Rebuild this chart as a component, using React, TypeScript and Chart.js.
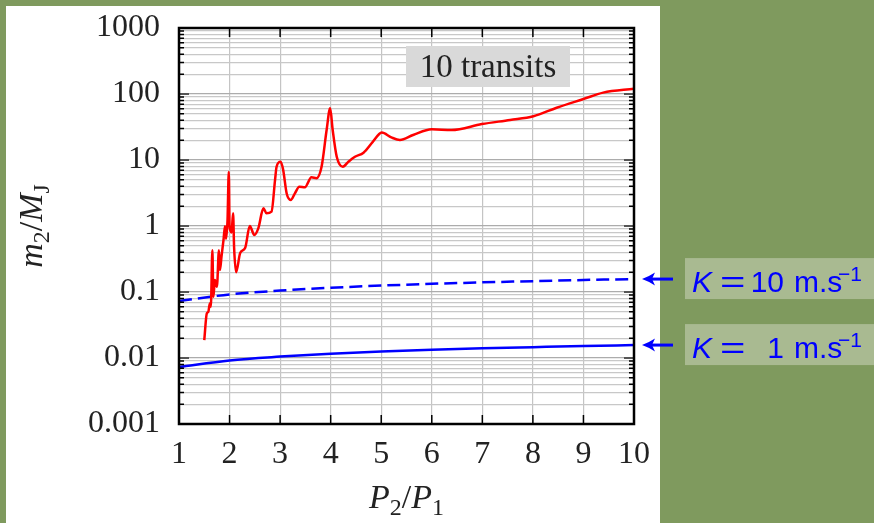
import React, { useEffect, useRef } from 'react';
import { Chart, registerables } from 'chart.js';
Chart.register(...registerables);

// ---- data ----
const X_TICKS = [1, 2, 3, 4, 5, 6, 7, 8, 9, 10];
const Y_DECADES = [0.001, 0.01, 0.1, 1, 10, 100, 1000];
const Y_TICK_LABELS = ['0.001', '0.01', '0.1', '1', '10', '100', '1000'];

const RED_X = [1.50, 1.55, 1.58, 1.61, 1.63, 1.66, 1.68, 1.71, 1.75, 1.79, 1.81, 1.84, 1.88, 1.91, 1.93, 1.96, 1.985, 2.00, 2.04, 2.07, 2.09, 2.13, 2.21, 2.31, 2.40, 2.49, 2.57, 2.67, 2.73, 2.83, 2.90, 2.93, 3.01, 3.06, 3.13, 3.21, 3.29, 3.38, 3.49, 3.62, 3.72, 3.82, 3.92, 3.99, 4.04, 4.12, 4.24, 4.35, 4.48, 4.65, 4.81, 4.96, 5.01, 5.2, 5.37, 5.63, 6.0, 6.39, 6.99, 7.55, 8.01, 8.47, 9.0, 9.39, 10.0];
const RED_Y = [0.0187, 0.0475, 0.05, 0.067, 0.06, 0.43, 0.085, 0.152, 0.12, 0.43, 0.215, 0.34, 0.61, 0.99, 0.64, 1.23, 6.6, 1.0, 0.8, 1.56, 0.47, 0.2, 0.39, 0.47, 1.0, 0.73, 0.93, 1.85, 1.56, 1.65, 5.0, 7.9, 9.4, 7.1, 3.1, 2.48, 3.1, 3.94, 3.85, 5.47, 5.3, 7.9, 28.5, 60.7, 28.5, 11.2, 7.9, 9.4, 11.2, 12.9, 17.9, 24.8, 26, 22, 20.1, 23.9, 29.2, 28.5, 35, 40.4, 46, 62, 84, 105, 120];

const K_X = [1, 2, 3, 4, 5, 6, 7, 8, 9, 10];
const K1_Y = [0.0073, 0.0092, 0.0105, 0.0116, 0.0125, 0.0133, 0.0140, 0.0146, 0.0152, 0.0157];
const K10_Y = [0.073, 0.092, 0.105, 0.116, 0.125, 0.133, 0.140, 0.146, 0.152, 0.157];

const BOX_LABEL = '10 transits';
const K_LABEL_VALUES = ['10', '1'];
const K_UNIT = 'm.s';
const K_EXP = '\u22121';

const SERIF = '"Liberation Serif", "DejaVu Serif", serif';
const SANS = '"Liberation Sans", "DejaVu Sans", sans-serif';
const GREEN = '#7f9a5e';
const LABEL_BG = '#a9ba91';
const TEXT = '#222222';

type Seg = { t: string; it?: boolean; sub?: boolean };

function drawRich(ctx: CanvasRenderingContext2D, segs: Seg[], cx: number, baseline: number, size: number) {
  const fontOf = (s: Seg) => `${s.it ? 'italic ' : ''}${s.sub ? Math.round(size * 0.7) : size}px ${SERIF}`;
  let total = 0;
  const widths = segs.map((s) => {
    ctx.font = fontOf(s);
    const w = ctx.measureText(s.t).width;
    total += w;
    return w;
  });
  let x = cx - total / 2;
  ctx.textAlign = 'left';
  ctx.textBaseline = 'alphabetic';
  segs.forEach((s, i) => {
    ctx.font = fontOf(s);
    ctx.fillText(s.t, x, baseline + (s.sub ? size * 0.22 : 0));
    x += widths[i];
  });
}

const decorPlugin = {
  id: 'decor',
  beforeDraw(chart: any) {
    const ctx = chart.ctx as CanvasRenderingContext2D;
    ctx.save();
    ctx.fillStyle = GREEN;
    ctx.fillRect(0, 0, chart.width, chart.height);
    ctx.fillStyle = '#ffffff';
    ctx.fillRect(6, 6, 654, chart.height - 6);
    ctx.restore();
  },
  afterDraw(chart: any) {
    const ctx = chart.ctx as CanvasRenderingContext2D;
    const { left, right, top, bottom } = chart.chartArea;
    const xs = chart.scales.x;
    const ys = chart.scales.y;
    ctx.save();
    // inner ticks
    ctx.strokeStyle = '#000';
    ctx.lineWidth = 1.5;
    X_TICKS.forEach((v) => {
      const px = xs.getPixelForValue(v);
      ctx.beginPath();
      ctx.moveTo(px, top); ctx.lineTo(px, top + 9);
      ctx.moveTo(px, bottom); ctx.lineTo(px, bottom - 9);
      ctx.stroke();
    });
    Y_DECADES.forEach((d, i) => {
      for (let m = 1; m <= 9; m++) {
        const v = d * m;
        if (m > 1 && i === Y_DECADES.length - 1) break;
        const py = ys.getPixelForValue(v);
        const len = m === 1 ? 10 : 5;
        ctx.strokeStyle = m === 1 ? '#555' : '#000';
        ctx.lineWidth = m === 1 ? 2 : 1.5;
        ctx.beginPath();
        ctx.moveTo(left, py); ctx.lineTo(left + len, py);
        ctx.moveTo(right, py); ctx.lineTo(right - len, py);
        ctx.stroke();
      }
    });
    // frame
    ctx.strokeStyle = '#000';
    ctx.lineWidth = 2.5;
    ctx.strokeRect(left, top, right - left, bottom - top);

    // "10 transits" box
    ctx.fillStyle = '#d9d9d9';
    ctx.fillRect(406, 46, 164, 41);
    ctx.fillStyle = TEXT;
    ctx.font = `33px ${SERIF}`;
    ctx.textAlign = 'center';
    ctx.textBaseline = 'alphabetic';
    ctx.fillText(BOX_LABEL, 488, 77);

    // axis titles
    ctx.fillStyle = TEXT;
    drawRich(ctx, [{ t: 'P', it: true }, { t: '2', sub: true }, { t: '/' }, { t: 'P', it: true }, { t: '1', sub: true }], (left + right) / 2, 508, 34);
    ctx.save();
    ctx.translate(42, (top + bottom) / 2);
    ctx.rotate(-Math.PI / 2);
    drawRich(ctx, [{ t: 'm', it: true }, { t: '2', sub: true }, { t: '/' }, { t: 'M', it: true }, { t: 'J', sub: true }], 0, 0, 34);
    ctx.restore();

    // K annotations
    const ends = [K10_Y[K10_Y.length - 1], K1_Y[K1_Y.length - 1]];
    ends.forEach((val, i) => {
      const py = ys.getPixelForValue(val);
      const boxTop = py - 21;
      ctx.fillStyle = LABEL_BG;
      ctx.fillRect(685, boxTop, chart.width - 685, 41);
      // arrow
      ctx.strokeStyle = '#0000ff';
      ctx.fillStyle = '#0000ff';
      ctx.lineWidth = 3;
      ctx.beginPath();
      ctx.moveTo(673, py); ctx.lineTo(650, py);
      ctx.stroke();
      ctx.beginPath();
      ctx.moveTo(642, py);
      ctx.quadraticCurveTo(648, py - 2, 655, py - 6.5);
      ctx.lineTo(652, py);
      ctx.lineTo(655, py + 6.5);
      ctx.quadraticCurveTo(648, py + 2, 642, py);
      ctx.closePath();
      ctx.fill();
      // text
      const base = py + 13;
      ctx.textBaseline = 'alphabetic';
      ctx.textAlign = 'left';
      ctx.font = `italic 30px ${SANS}`;
      ctx.fillText('K', 692, base);
      ctx.font = `30px ${SANS}`;
      ctx.save();
      ctx.translate(720, base);
      ctx.scale(1.45, 1);
      ctx.fillText('=', 0, 0);
      ctx.restore();
      ctx.textAlign = 'right';
      ctx.fillText(K_LABEL_VALUES[i], 784, base);
      ctx.textAlign = 'left';
      ctx.fillText(K_UNIT, 794, base);
      ctx.font = `21px ${SANS}`;
      ctx.fillText(K_EXP, 838, base - 11);
    });
    ctx.restore();
  },
};

export default function App() {
  const ref = useRef<HTMLCanvasElement | null>(null);
  useEffect(() => {
    if (!ref.current) return;
    const redData = RED_X.map((x, i) => ({ x, y: RED_Y[i] }));
    const k1Data = K_X.map((x, i) => ({ x, y: K1_Y[i] }));
    const k10Data = K_X.map((x, i) => ({ x, y: K10_Y[i] }));
    const yTickValues: number[] = [];
    Y_DECADES.forEach((d, i) => {
      for (let m = 1; m <= 9; m++) {
        if (m > 1 && i === Y_DECADES.length - 1) break;
        yTickValues.push(+(d * m).toPrecision(6));
      }
    });
    const chart = new Chart(ref.current, {
      type: 'line',
      data: {
        datasets: [
          { label: 'm2', data: redData, borderColor: '#ff0000', borderWidth: 2.5, pointRadius: 0, cubicInterpolationMode: 'monotone', fill: false },
          { label: 'K10', data: k10Data, borderColor: '#0000ff', borderWidth: 2.5, pointRadius: 0, borderDash: [13, 6], cubicInterpolationMode: 'monotone', fill: false },
          { label: 'K1', data: k1Data, borderColor: '#0000ff', borderWidth: 2.5, pointRadius: 0, cubicInterpolationMode: 'monotone', fill: false },
        ],
      },
      options: {
        responsive: false,
        maintainAspectRatio: false,
        animation: false,
        layout: { padding: { left: 0, right: 240, top: 28, bottom: 0 } },
        plugins: { legend: { display: false }, tooltip: { enabled: false } },
        scales: {
          x: {
            type: 'linear',
            min: 1,
            max: 10,
            border: { display: false },
            grid: { color: '#c4c4c4', lineWidth: 1.2, drawTicks: false },
            afterBuildTicks: (s: any) => { s.ticks = X_TICKS.map((v) => ({ value: v })); },
            afterFit: (s: any) => { s.height = 99; s.paddingLeft = 0; s.paddingRight = 0; },
            ticks: {
              autoSkip: false,
              maxRotation: 0,
              padding: 11,
              color: TEXT,
              font: { family: SERIF, size: 32 },
              callback: (v: any) => String(v),
            },
          },
          y: {
            type: 'logarithmic',
            min: 0.001,
            max: 1000,
            border: { display: false },
            grid: {
              color: (c: any) => (c.tick && Y_DECADES.some((d) => Math.abs(d - c.tick.value) < d * 1e-6) ? '#acacac' : '#c8c8c8'),
              lineWidth: 1.2,
              drawTicks: false,
            },
            afterBuildTicks: (s: any) => { s.ticks = yTickValues.map((v) => ({ value: v })); },
            afterFit: (s: any) => { s.width = 179; s.paddingTop = 0; s.paddingBottom = 0; },
            ticks: {
              autoSkip: false,
              padding: 19,
              color: TEXT,
              font: { family: SERIF, size: 32 },
              callback: (v: any) => {
                const idx = Y_DECADES.findIndex((d) => Math.abs(d - v) < d * 1e-6);
                return idx >= 0 ? Y_TICK_LABELS[idx] : '';
              },
            },
          },
        },
      },
      plugins: [decorPlugin],
    } as any);
    return () => chart.destroy();
  }, []);
  return (
    <div style={{ position: 'fixed', left: 0, top: 0, width: 874, height: 523 }}>
      <canvas ref={ref} width={874} height={523} style={{ display: 'block', width: 874, height: 523 }} />
    </div>
  );
}
